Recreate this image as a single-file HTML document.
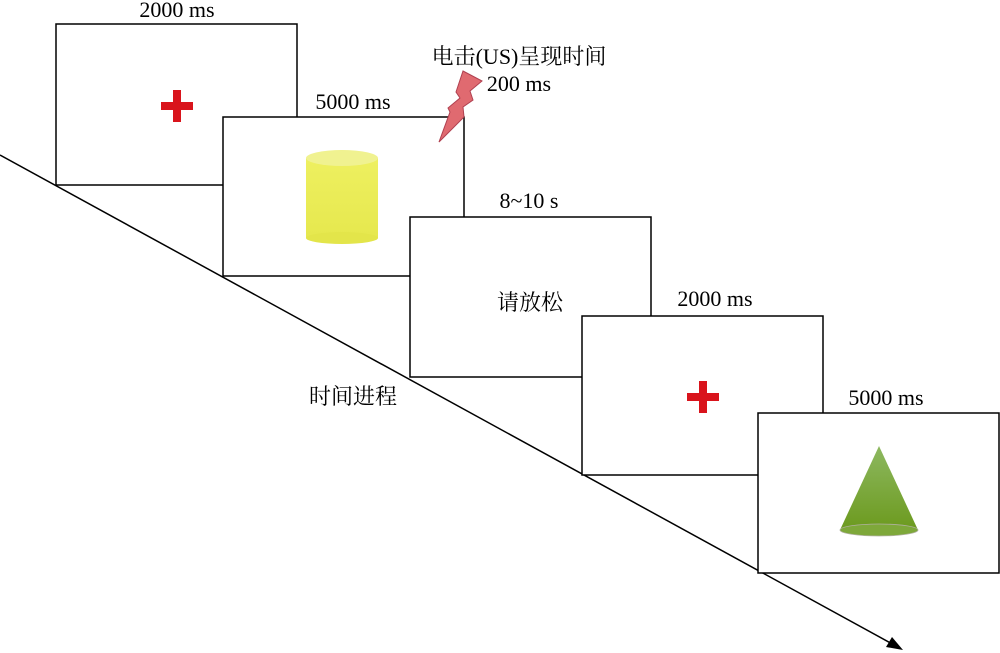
<!DOCTYPE html>
<html><head><meta charset="utf-8"><style>
html,body{margin:0;padding:0;background:#fff;width:1000px;height:653px;overflow:hidden}
text{font-family:"Liberation Serif","Noto Serif CJK SC",serif;font-size:22px;fill:#000}
</style></head><body>
<svg width="1000" height="653" viewBox="0 0 1000 653">
<defs>
<linearGradient id="cy" x1="0" x2="0" y1="0" y2="1"><stop offset="0" stop-color="#eef060"/><stop offset="1" stop-color="#e6e84e"/></linearGradient>
<linearGradient id="cn" x1="0" x2="0" y1="0" y2="1"><stop offset="0" stop-color="#8db860"/><stop offset="1" stop-color="#6c9a1e"/></linearGradient>
</defs>
<line x1="0" y1="155" x2="896" y2="646" stroke="#000" stroke-width="1.5"/>
<polygon points="903,650 886,647 892,637" fill="#000"/>
<g fill="#fff" stroke="#000" stroke-width="1.5">
<rect x="56" y="24" width="241" height="161"/>
<rect x="223" y="117" width="241" height="159"/>
<rect x="410" y="217" width="241" height="160"/>
<rect x="582" y="316" width="241" height="159"/>
<rect x="758" y="413" width="241" height="160"/>
</g>
<g fill="#d9141c">
<rect x="161" y="102" width="32" height="8"/><rect x="173" y="90" width="8" height="32"/>
<rect x="687" y="393" width="32" height="8"/><rect x="699" y="381" width="8" height="32"/>
</g>
<rect x="306" y="158" width="72" height="80" fill="url(#cy)"/>
<ellipse cx="342" cy="238" rx="36" ry="6" fill="#e3e54a"/>
<ellipse cx="342" cy="158" rx="36" ry="8" fill="#f0f290"/>
<polygon points="879,446 840,530 918,530" fill="url(#cn)"/>
<ellipse cx="879" cy="530" rx="39" ry="6" fill="#7ea83a" stroke="#b0b0a0" stroke-width="0.8"/>
<polygon points="463,71 482,81 470,91 473,100 463,107 464,117 439,142 450,112 448,108 460,98 456,92" fill="#e06a70" stroke="#b04050" stroke-width="1"/>
<text x="177" y="17" text-anchor="middle">2000 ms</text>
<text x="353" y="109" text-anchor="middle">5000 ms</text>
<text x="519" y="64" text-anchor="middle">电击(US)呈现时间</text>
<text x="519" y="91" text-anchor="middle">200 ms</text>
<text x="529" y="208" text-anchor="middle">8~10 s</text>
<text x="530" y="310" text-anchor="middle">请放松</text>
<text x="715" y="306" text-anchor="middle">2000 ms</text>
<text x="886" y="405" text-anchor="middle">5000 ms</text>
<text x="353" y="404" text-anchor="middle">时间进程</text>
</svg>
</body></html>
